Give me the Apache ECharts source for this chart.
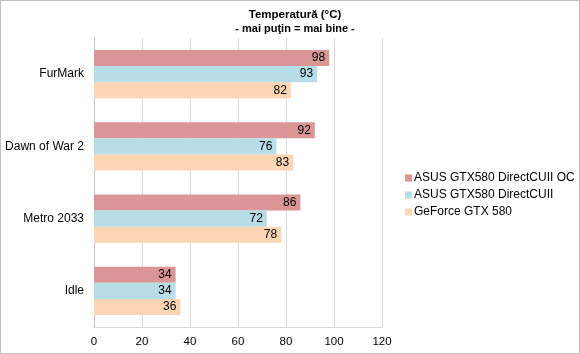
<!DOCTYPE html>
<html><head><meta charset="utf-8">
<script src="https://cdn.jsdelivr.net/npm/echarts@6/dist/echarts.min.js"></script>
<style>html,body{margin:0;padding:0;background:#fff}#c{width:580px;height:354px}#b{position:absolute;left:0;top:0;width:580px;height:354px;box-sizing:border-box;border:1px solid #bfbfbf;pointer-events:none}</style>
</head><body><div id="c"></div><div id="b"></div>
<script>
const categories = ['FurMark', 'Dawn of War 2', 'Metro 2033', 'Idle'];
const seriesNames = ['ASUS GTX580 DirectCUII OC', 'ASUS GTX580 DirectCUII', 'GeForce GTX 580'];
const asusOC = [98, 92, 86, 34];
const asus = [93, 76, 72, 34];
const geforce = [82, 83, 78, 36];
const xTicks = [0, 20, 40, 60, 80, 100, 120];
const colors = ['#D99694', '#B7DEE8', '#FCD5B5'];

const chart = echarts.init(document.getElementById('c'));
const values = [asusOC, asus, geforce];
chart.setOption({
  animation: false,
  title: {
    text: 'Temperatură (°C)',
    subtext: '- mai puţin = mai bine -',
    left: 290, top: 4, textAlign: 'center',
    itemGap: 2,
    textStyle: {fontFamily: 'Liberation Sans', fontWeight: 'bold', fontSize: 11.5, color: '#000'},
    subtextStyle: {fontFamily: 'Liberation Sans', fontWeight: 'bold', fontSize: 11, color: '#000'}
  },
  legend: {
    orient: 'vertical', left: 400, top: 167,
    itemWidth: 7, itemHeight: 7, itemGap: 5,
    icon: 'rect',
    textStyle: {fontFamily: 'Liberation Sans', fontSize: 12, color: '#000', padding: [0,0,0,-3]},
    data: seriesNames
  },
  grid: {left: 94, right: 198, top: 38, bottom: 27, containLabel: false, outerBoundsMode: 'none'},
  xAxis: {
    type: 'value', min: 0, max: 120, interval: 20,
    data: xTicks,
    axisLine: {show: true, lineStyle: {color: '#d9d9d9'}}, axisTick: {show: false},
    splitLine: {show: true, lineStyle: {color: '#d9d9d9', width: 1}},
    axisLabel: {fontFamily: 'Liberation Sans', fontSize: 11.5, color: '#000', margin: 9}
  },
  yAxis: {
    type: 'category', data: categories, inverse: true,
    axisLine: {show: true, lineStyle: {color: '#bfbfbf'}},
    axisTick: {show: false},
    axisLabel: {fontFamily: 'Liberation Sans', fontSize: 12, color: '#000', margin: 10}
  },
  series: values.map((v, i) => ({
    name: seriesNames[i], type: 'bar', data: v,
    barGap: '0%', barCategoryGap: '33%',
    itemStyle: {color: colors[i]},
    label: {show: true, position: 'insideRight', distance: 4, fontFamily: 'Liberation Sans', fontSize: 12, color: '#000'}
  }))
});
</script></body></html>
